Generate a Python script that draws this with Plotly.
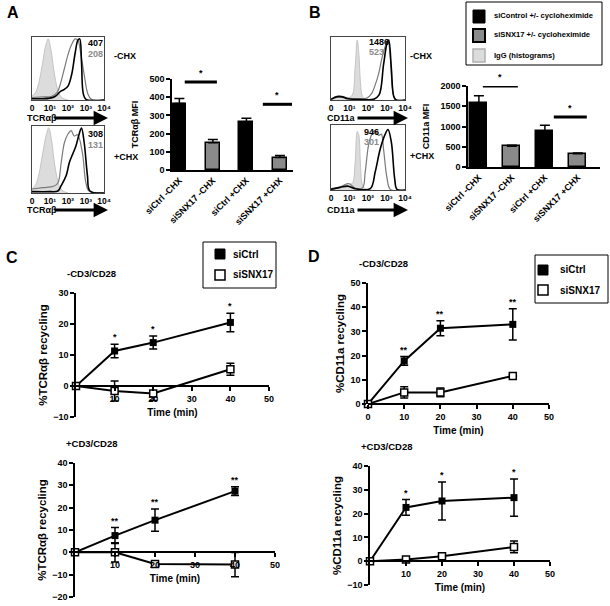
import plotly.graph_objects as go

W, H = 610, 606
OFF = 0  # body margin removed through post_script below

# ---------------- data ----------------
hist_tickvals = [0, 1, 2, 3, 4]
hist_ticktext = ["0", "10¹", "10²", "10³", "10⁴"]

# Panel A histograms (x = log decades, y = normalised count)
A_top_igg_u = [0, 0.2, 0.4, 0.6, 0.75, 0.9, 1.05, 1.2, 1.35, 1.5, 1.7, 2.0]
A_top_igg_h = [0.06, 0.12, 0.3, 0.6, 0.85, 0.97, 0.8, 0.5, 0.25, 0.1, 0.03, 0]
A_top_ctrl_u = [0, 0.5, 1.0, 1.3, 1.6, 1.8, 2.0, 2.2, 2.4, 2.55, 2.65, 2.75, 2.85, 3.0, 4.0]
A_top_ctrl_h = [0.02, 0.02, 0.03, 0.06, 0.14, 0.17, 0.22, 0.4, 0.75, 0.95, 0.97, 0.6, 0.1, 0.01, 0]
A_top_snx_u = [0, 0.6, 1.1, 1.4, 1.6, 1.8, 2.0, 2.2, 2.4, 2.55, 2.7, 2.9, 3.1, 3.3, 4]
A_top_snx_h = [0.04, 0.05, 0.06, 0.12, 0.28, 0.5, 0.72, 0.88, 0.97, 0.95, 0.75, 0.4, 0.1, 0.01, 0]

A_bot_igg_u = [0, 0.2, 0.4, 0.6, 0.78, 0.93, 1.08, 1.22, 1.37, 1.52, 1.72, 2.0]
A_bot_igg_h = [0.06, 0.12, 0.3, 0.6, 0.85, 0.97, 0.8, 0.5, 0.25, 0.1, 0.03, 0]
A_bot_ctrl_u = [0, 1.0, 1.44, 1.62, 1.9, 2.08, 2.26, 2.44, 2.62, 2.75, 2.9, 3.08, 3.22, 4]
A_bot_ctrl_h = [0.02, 0.02, 0.03, 0.11, 0.26, 0.46, 0.58, 0.7, 0.88, 0.97, 0.75, 0.26, 0.03, 0]
A_bot_snx_u = [0, 0.6, 1.2, 1.44, 1.62, 1.8, 2.0, 2.17, 2.35, 2.53, 2.8, 2.99, 3.17, 4]
A_bot_snx_h = [0.06, 0.08, 0.1, 0.15, 0.45, 0.75, 0.88, 0.93, 0.85, 0.87, 0.6, 0.16, 0.03, 0]

# Panel B histograms
B_top_igg_u = [0, 0.3, 0.6, 0.9, 1.15, 1.3, 1.42, 1.5, 1.6, 1.7, 1.9, 2.2]
B_top_igg_h = [0.01, 0.04, 0.05, 0.03, 0.08, 0.5, 0.95, 0.75, 0.25, 0.06, 0.01, 0]
B_top_ctrl_u = [0, 0.3, 0.6, 0.9, 1.5, 2.3, 2.6, 2.84, 3.03, 3.12, 3.26, 3.39, 3.52, 4]
B_top_ctrl_h = [0.01, 0.05, 0.05, 0.02, 0.01, 0.01, 0.08, 0.56, 0.9, 0.95, 0.51, 0.06, 0, 0]
B_top_snx_u = [0, 0.3, 0.6, 0.9, 1.5, 1.94, 2.21, 2.39, 2.57, 2.75, 2.93, 3.08, 3.21, 3.33, 3.48, 4]
B_top_snx_h = [0.01, 0.06, 0.06, 0.03, 0.02, 0.03, 0.11, 0.24, 0.41, 0.66, 0.85, 0.95, 0.66, 0.16, 0.01, 0]

B_bot_igg_u = [0, 0.4, 0.7, 0.95, 1.15, 1.3, 1.42, 1.5, 1.6, 1.7, 1.9, 2.2]
B_bot_igg_h = [0.01, 0.03, 0.07, 0.1, 0.1, 0.4, 0.9, 0.85, 0.35, 0.08, 0.01, 0]
B_bot_ctrl_u = [0, 0.5, 0.9, 1.3, 2.12, 2.39, 2.66, 2.93, 3.08, 3.26, 3.44, 3.57, 4]
B_bot_ctrl_h = [0.01, 0.04, 0.06, 0.02, 0.02, 0.28, 0.63, 0.86, 0.93, 0.74, 0.18, 0.01, 0]
B_bot_snx_u = [0, 0.5, 0.94, 1.3, 1.7, 1.85, 2.03, 2.21, 2.35, 2.57, 2.72, 2.84, 3.03, 3.21, 4]
B_bot_snx_h = [0.02, 0.05, 0.1, 0.03, 0.03, 0.28, 0.69, 0.86, 0.91, 0.84, 0.86, 0.63, 0.18, 0.01, 0]

# MFI values shown next to histograms
A_top_mfi = ["407", "208"]
A_bot_mfi = ["308", "131"]
B_top_mfi = ["1486", "523"]
B_bot_mfi = ["946", "301"]

# Bar charts
bar_cats = ["siCtrl -CHX", "siSNX17 -CHX", "siCtrl +CHX", "siSNX17 +CHX"]
tcr_mfi = [365, 150, 262, 68]
tcr_mfi_err = [28, 18, 23, 12]
cd11a_mfi = [1570, 510, 880, 330]
cd11a_mfi_err = [190, 30, 150, 15]
A_sig = [(0.16, 1.12, 484), (2.49, 3.36, 361)]
B_sig = [(0.12, 1.18, 2000), (2.27, 3.27, 1235)]

# Recycling time courses
time_min = [0, 10, 20, 40]
C_minus_ctrl = [0, 11.3, 14.0, 20.5]
C_minus_ctrl_err = [0, 2.2, 2.1, 3.0]
C_minus_snx = [0, -1.6, -2.4, 5.4]
C_minus_snx_err = [0, 3.2, 2.3, 1.9]
C_minus_stars = ["", "*", "*", "*"]

C_plus_ctrl = [0, 7.5, 14.4, 27.4]
C_plus_ctrl_err = [0, 3.6, 5.0, 2.0]
C_plus_snx = [0, 0.0, -5.2, -5.5]
C_plus_snx_err = [0, 4.3, 0.4, 5.4]
C_plus_stars = ["", "**", "**", "**"]

D_minus_ctrl = [0, 17.8, 31.3, 32.9]
D_minus_ctrl_err = [0, 1.8, 3.1, 6.5]
D_minus_snx = [0, 4.8, 4.8, 11.6]
D_minus_snx_err = [0, 2.3, 1.8, 0.5]
D_minus_stars = ["", "**", "**", "**"]

D_plus_ctrl = [0, 22.6, 25.3, 26.7]
D_plus_ctrl_err = [0, 3.3, 8.0, 7.8]
D_plus_snx = [0, 0.7, 2.1, 6.0]
D_plus_snx_err = [0, 0.5, 0.5, 2.5]
D_plus_stars = ["", "*", "*", "*"]

# ---------------- helpers ----------------
FONT = "Liberation Sans, Arial, sans-serif"
BLACK = "#000000"
GREY = "#8a8a8a"
LIGHT = "#dcdcdc"


def fx(p):
    return (p - OFF) / W


def fy(p):
    return 1 - (p - OFF) / H


def font(size=9, color=BLACK):
    return dict(family=FONT, size=size, color=color, weight="bold")


base_axis = dict(showgrid=False, zeroline=False, showline=True, linecolor=BLACK,
                 linewidth=1.5, ticks="outside", ticklen=4, tickwidth=1.5,
                 tickcolor=BLACK, tickfont=font(9), automargin=False, fixedrange=True)

fig = go.Figure()
layout = {}
annotations = []
shapes = []


def ax_names(n):
    s = "" if n == 1 else str(n)
    return "x" + s, "y" + s, "xaxis" + s, "yaxis" + s


def text(x, y, t, size=9, color=BLACK, xanchor="left", yanchor="middle"):
    annotations.append(dict(x=fx(x), y=fy(y), xref="paper", yref="paper", text=t,
                            showarrow=False, font=font(size, color),
                            xanchor=xanchor, yanchor=yanchor))


def arrow(x0, x1, y):
    annotations.append(dict(x=fx(x1), y=fy(y), xref="paper", yref="paper", text="",
                            showarrow=True, ax=-(x1 - x0), ay=0, arrowhead=2,
                            arrowsize=0.9, arrowwidth=3.2, arrowcolor=BLACK))


# ---------------- histograms ----------------
def histogram(n, xd, yd, igg, ctrl, snx):
    xn, yn, xk, yk = ax_names(n)
    fig.add_trace(go.Scatter(x=igg[0], y=igg[1], xaxis=xn, yaxis=yn, mode="lines",
                             line=dict(color="#c4c4c4", width=1, shape="spline"),
                             fill="tozeroy", fillcolor=LIGHT, showlegend=False))
    fig.add_trace(go.Scatter(x=snx[0], y=snx[1], xaxis=xn, yaxis=yn, mode="lines",
                             line=dict(color="#7a7a7a", width=1.2, shape="spline"),
                             showlegend=False))
    fig.add_trace(go.Scatter(x=ctrl[0], y=ctrl[1], xaxis=xn, yaxis=yn, mode="lines",
                             line=dict(color=BLACK, width=1.6, shape="spline"),
                             showlegend=False))
    layout[xk] = dict(base_axis, domain=[fx(xd[0]), fx(xd[1])], anchor=yn, range=[0, 4],
                      tickvals=hist_tickvals, ticktext=hist_ticktext, ticks="",
                      tickfont=font(8.5), mirror=True, linewidth=1, linecolor="#444")
    layout[yk] = dict(base_axis, domain=[fy(yd[1]), fy(yd[0])], anchor=xn, range=[0, 1.0],
                      showticklabels=False, ticks="", mirror=True, linewidth=1,
                      linecolor="#444")


histogram(1, (32, 104), (37, 100), (A_top_igg_u, A_top_igg_h), (A_top_ctrl_u, A_top_ctrl_h),
          (A_top_snx_u, A_top_snx_h))
histogram(2, (32, 104), (126, 193), (A_bot_igg_u, A_bot_igg_h), (A_bot_ctrl_u, A_bot_ctrl_h),
          (A_bot_snx_u, A_bot_snx_h))
histogram(4, (331, 405), (37, 100), (B_top_igg_u, B_top_igg_h), (B_top_ctrl_u, B_top_ctrl_h),
          (B_top_snx_u, B_top_snx_h))
histogram(5, (331, 405), (125, 190), (B_bot_igg_u, B_bot_igg_h), (B_bot_ctrl_u, B_bot_ctrl_h),
          (B_bot_snx_u, B_bot_snx_h))

# histogram texts
text(86, 43, A_top_mfi[0]); text(86, 54, A_top_mfi[1], color=GREY)
text(86, 134, A_bot_mfi[0]); text(86, 145, A_bot_mfi[1], color=GREY)
text(367, 42, B_top_mfi[0]); text(367, 52, B_top_mfi[1], color=GREY)
text(362, 132, B_bot_mfi[0]); text(362, 142, B_bot_mfi[1], color=GREY)
text(112, 56, "-CHX"); text(112, 157, "+CHX")
text(408, 56, "-CHX"); text(408, 156, "+CHX")
text(25, 118, "TCRαβ"); arrow(53, 108, 118)
text(25, 210, "TCRαβ"); arrow(53, 108, 210)
text(325, 118, "CD11a"); arrow(356, 408, 118)
text(325, 210, "CD11a"); arrow(356, 408, 210)


# ---------------- bar charts ----------------
def bars(n, xd, yd, vals, errs, yrange, ytickvals, ytitle, xr, width, sig):
    xn, yn, xk, yk = ax_names(n)
    fig.add_trace(go.Bar(x=bar_cats, y=vals, xaxis=xn, yaxis=yn, width=width,
                         marker=dict(color=[BLACK, GREY, BLACK, GREY],
                                     line=dict(color=BLACK, width=1.5)),
                         error_y=dict(type="data", symmetric=False, array=errs,
                                      arrayminus=[0] * len(errs), color=BLACK,
                                      thickness=1.5, width=5),
                         showlegend=False))
    layout[xk] = dict(base_axis, domain=[fx(xd[0]), fx(xd[1])], anchor=yn, type="category",
                      range=xr, ticks="", tickangle=-45, tickfont=font(9))
    layout[yk] = dict(base_axis, domain=[fy(yd[1]), fy(yd[0])], anchor=xn, range=yrange,
                      tickvals=ytickvals, title=dict(text=ytitle, font=font(9), standoff=9))
    for a, b, lvl in sig:
        shapes.append(dict(type="line", xref=xn, yref=yn, x0=a, x1=b, y0=lvl, y1=lvl,
                           line=dict(color=BLACK, width=3)))
        annotations.append(dict(x=(a + b) / 2, y=lvl, xref=xn, yref=yn, text="*",
                                showarrow=False, font=font(9), yanchor="bottom", yshift=2))


bars(3, (172, 293), (79, 170), tcr_mfi, tcr_mfi_err, [0, 500], [0, 100, 200, 300, 400, 500],
     "TCRαβ MFI", [-0.22, 3.39], 0.42, A_sig)
bars(6, (468, 600), (86, 167), cd11a_mfi, cd11a_mfi_err, [0, 2000], [0, 500, 1000, 1500, 2000],
     "CD11a MFI", [-0.33, 3.67], 0.52, B_sig)


# ---------------- time courses ----------------
def timecourse(n, xd, yd, yrange, ytickvals, xtickvals, ytitle, title, ctrl, ctrl_err,
               snx, snx_err, stars):
    xn, yn, xk, yk = ax_names(n)
    fig.add_trace(go.Scatter(x=time_min, y=ctrl, xaxis=xn, yaxis=yn, mode="lines+markers",
                             line=dict(color=BLACK, width=2),
                             marker=dict(symbol="square", size=7, color=BLACK),
                             error_y=dict(type="data", array=ctrl_err, color=BLACK,
                                          thickness=1.5, width=4),
                             cliponaxis=False, showlegend=False))
    fig.add_trace(go.Scatter(x=time_min, y=snx, xaxis=xn, yaxis=yn, mode="lines+markers",
                             line=dict(color=BLACK, width=2),
                             marker=dict(symbol="square", size=7, color="white",
                                         line=dict(color=BLACK, width=1.5)),
                             error_y=dict(type="data", array=snx_err, color=BLACK,
                                          thickness=1.5, width=4),
                             cliponaxis=False, showlegend=False))
    y0, y1 = fy(yd[1]), fy(yd[0])
    zero_pos = y0 + (0 - yrange[0]) / (yrange[1] - yrange[0]) * (y1 - y0)
    layout[xk] = dict(base_axis, domain=[fx(xd[0]), fx(xd[1])], anchor="free",
                      position=zero_pos, range=[0, 50], tickvals=xtickvals,
                      title=dict(text="Time (min)", font=font(10), standoff=5))
    layout[yk] = dict(base_axis, domain=[y0, y1], anchor=xn, range=yrange,
                      tickvals=ytickvals, title=dict(text=ytitle, font=font(11.5), standoff=3))
    for t, m, e, s in zip(time_min, ctrl, ctrl_err, stars):
        if s:
            annotations.append(dict(x=t, y=m + e, xref=xn, yref=yn, text=s, showarrow=False,
                                    font=font(9), yanchor="bottom", yshift=0))
    text(xd[0] - 11, yd[0] - 20, title, size=9.5)


timecourse(7, (76, 269), (293, 417), [-10, 30], [-10, 0, 10, 20, 30], [10, 20, 30, 40, 50],
           "%TCRαβ recycling", "-CD3/CD28", C_minus_ctrl, C_minus_ctrl_err,
           C_minus_snx, C_minus_snx_err, C_minus_stars)
timecourse(8, (75, 275), (463, 597), [-20, 40], [-20, -10, 0, 10, 20, 30, 40],
           [10, 20, 30, 40, 50], "%TCRαβ recycling", "+CD3/CD28", C_plus_ctrl,
           C_plus_ctrl_err, C_plus_snx, C_plus_snx_err, C_plus_stars)
timecourse(9, (368, 549), (283, 404), [0, 50], [0, 10, 20, 30, 40, 50],
           [0, 10, 20, 30, 40, 50], "%CD11a recycling", "-CD3/CD28", D_minus_ctrl,
           D_minus_ctrl_err, D_minus_snx, D_minus_snx_err, D_minus_stars)
timecourse(10, (370, 550), (466, 585), [-10, 40], [-10, 0, 10, 20, 30, 40],
           [10, 20, 30, 40, 50], "%CD11a recycling", "+CD3/CD28", D_plus_ctrl,
           D_plus_ctrl_err, D_plus_snx, D_plus_snx_err, D_plus_stars)


# ---------------- legends ----------------
def rect(x0, y0, x1, y1, fill, line=BLACK, lw=1.0):
    shapes.append(dict(type="rect", xref="paper", yref="paper", x0=fx(x0), x1=fx(x1),
                       y0=fy(y1), y1=fy(y0), fillcolor=fill, line=dict(color=line, width=lw)))


rect(466, 2, 602, 65, "white")
rect(473, 10, 485, 23, BLACK)
rect(473, 29, 485, 42, GREY, BLACK, 2)
rect(473, 49, 485, 62, LIGHT, "#b0b0b0", 1.5)
text(492, 16, "siControl +/- cycloheximide", size=7.6)
text(492, 35, "siSNX17 +/- cycloheximide", size=7.6)
text(492, 55, "IgG (histograms)", size=7.6)

rect(203, 242, 276, 288, "white")
rect(215, 249, 225, 259, BLACK)
rect(215, 270, 225, 280, "white", BLACK, 1.5)
text(231, 254, "siCtrl", size=10)
text(231, 274, "siSNX17", size=10)

rect(535, 255, 608, 303, "white")
rect(538, 265, 548, 275, BLACK)
rect(538, 285, 548, 295, "white", BLACK, 1.5)
text(558, 270, "siCtrl", size=10)
text(558, 290, "siSNX17", size=10)

# panel letters
text(5, 13, "A", size=16)
text(307, 13, "B", size=16)
text(4, 257, "C", size=16)
text(306, 256, "D", size=16)

layout.update(width=W, height=H, autosize=False, margin=dict(l=0, r=0, t=0, b=0),
              paper_bgcolor="white", plot_bgcolor="rgba(0,0,0,0)", showlegend=False,
              font=font(9), annotations=annotations, shapes=shapes, bargap=0)
fig.update_layout(**layout)
fig.write_html("out.html", config={"displayModeBar": False},
               post_script="document.body.style.margin='0px';")
